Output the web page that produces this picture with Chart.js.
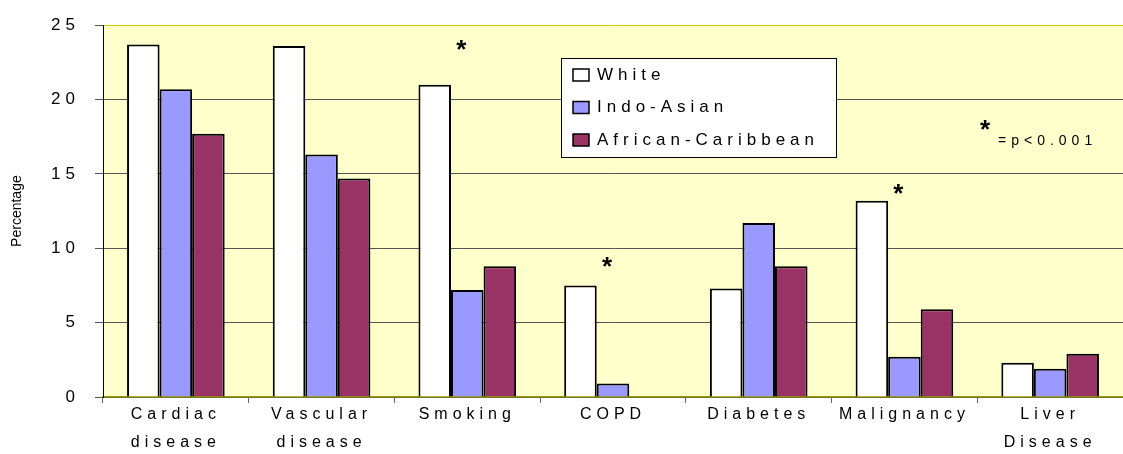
<!DOCTYPE html>
<html>
<head>
<meta charset="utf-8">
<script src="https://cdn.jsdelivr.net/npm/chart.js@4"></script>
<style>
  html, body { margin: 0; padding: 0; background: #fff; }
  #wrap { width: 1123px; height: 454px; }
</style>
</head>
<body>
<div id="wrap"><canvas id="mycanvas"></canvas></div>
<script>
// data
var categories = [['Cardiac', 'disease'], ['Vascular', 'disease'], 'Smoking', 'COPD', 'Diabetes', 'Malignancy', ['Liver', 'Disease']];
var white = [23.7, 23.6, 21.0, 7.5, 7.3, 13.2, 2.3];
var indoAsian = [20.7, 16.3, 7.2, 0.9, 11.7, 2.7, 1.9];
var africanCaribbean = [17.7, 14.7, 8.8, 0, 8.8, 5.9, 2.9];
var yTicks = [0, 5, 10, 15, 20, 25];
// significance marks (category index, value where the * sits)
var sigIndex = [2, 3, 5];
var sigValue = [23.6, 9.0, 13.9];

var chartdata = {
  labels: categories,
  datasets: [
    { label: 'White', backgroundColor: '#FFFFFF', borderColor: '#000', borderWidth: 2, data: white },
    { label: 'Indo-Asian', backgroundColor: '#9999FF', borderColor: '#000', borderWidth: 2, data: indoAsian },
    { label: 'African-Caribbean', backgroundColor: '#993366', borderColor: '#000', borderWidth: 2, data: africanCaribbean }
  ]
};

var LS = '5px';

// spaced out letters like the original + yellow plot area
var spacing = {
  id: 'spacing',
  beforeInit: function(chart) { chart.ctx.letterSpacing = LS; },
  beforeUpdate: function(chart) { chart.ctx.letterSpacing = LS; },
  beforeDraw: function(chart) {
    var a = chart.chartArea, ctx = chart.ctx;
    ctx.letterSpacing = LS;
    ctx.save();
    ctx.fillStyle = '#FFFFCC';
    ctx.fillRect(a.left, a.top, a.right - a.left, a.bottom - a.top);
    ctx.restore();
  }
};

var extras = {
  id: 'extras',
  afterDraw: function(chart) {
    var ctx = chart.ctx, x = chart.scales.x, y = chart.scales.y, a = chart.chartArea;
    ctx.save();
    ctx.letterSpacing = '0px';
    ctx.fillStyle = '#000';
    ctx.textAlign = 'center';
    ctx.textBaseline = 'middle';

    // axis title
    ctx.save();
    ctx.translate(17, (a.top + a.bottom) / 2);
    ctx.rotate(-Math.PI / 2);
    ctx.font = '14px Arial';
    ctx.fillText('Percentage', 0, 0);
    ctx.restore();

    ctx.font = 'bold 26px Arial';
    for (var i = 0; i < sigIndex.length; i++) {
      ctx.fillText('*', x.getPixelForValue(sigIndex[i]) - 6, y.getPixelForValue(sigValue[i]) + 5);
    }
    ctx.fillText('*', 985, 131);
    ctx.font = '14px Arial';
    ctx.letterSpacing = '5px';
    ctx.textAlign = 'left';
    ctx.fillText('=p<0.001', 998, 141);

    // legend box
    var lx = 561, ly = 58, lw = 275, lh = 99;
    ctx.fillStyle = '#fff';
    ctx.fillRect(lx, ly, lw, lh);
    ctx.strokeStyle = '#000';
    ctx.lineWidth = 1;
    ctx.strokeRect(lx + 0.5, ly + 0.5, lw, lh);
    ctx.font = '17px Arial';
    chart.data.datasets.forEach(function(ds, k) {
      var cy = ly + 17 + k * 32.5;
      ctx.fillStyle = ds.backgroundColor;
      ctx.fillRect(lx + 12, cy - 6, 16, 12);
      ctx.strokeStyle = '#000';
      ctx.lineWidth = 1.5;
      ctx.strokeRect(lx + 12, cy - 6, 16, 12);
      ctx.fillStyle = '#000';
      ctx.fillText(ds.label, lx + 36, cy);
    });
    ctx.restore();
  }
};

var ctx = document.getElementById('mycanvas');
var barGraph = new Chart(ctx, {
  type: 'bar',
  data: chartdata,
  plugins: [spacing, extras],
  options: {
    responsive: true,
    maintainAspectRatio: false,
    animation: false,
    layout: { padding: { top: 24, right: 0, left: 0, bottom: 0 } },
    plugins: { legend: { display: false }, tooltip: { enabled: false } },
    datasets: { bar: { categoryPercentage: 0.67, barPercentage: 1.0 } },
    scales: {
      x: {
        afterFit: function(s) { s.height = 57; },
        grid: { drawOnChartArea: false, offset: true, tickLength: 6, color: '#666' },
        border: { color: '#999900', width: 1.5 },
        ticks: { color: '#000', font: { family: 'Arial', size: 16, lineHeight: 1.75 }, maxRotation: 0, padding: -2 }
      },
      y: {
        min: 0, max: 25,
        afterFit: function(s) { s.width = 103; },
        afterBuildTicks: function(s) { s.ticks = yTicks.map(function(v) { return { value: v }; }); },
        grid: { color: function(c) { return c.tick && c.tick.value === 25 ? '#CCCC00' : '#555'; }, tickColor: '#555', tickLength: 8, lineWidth: 1 },
        border: { color: '#000', width: 1 },
        ticks: { color: '#000', font: { family: 'Arial', size: 17 }, padding: 15 }
      }
    }
  }
});
</script>
</body>
</html>
